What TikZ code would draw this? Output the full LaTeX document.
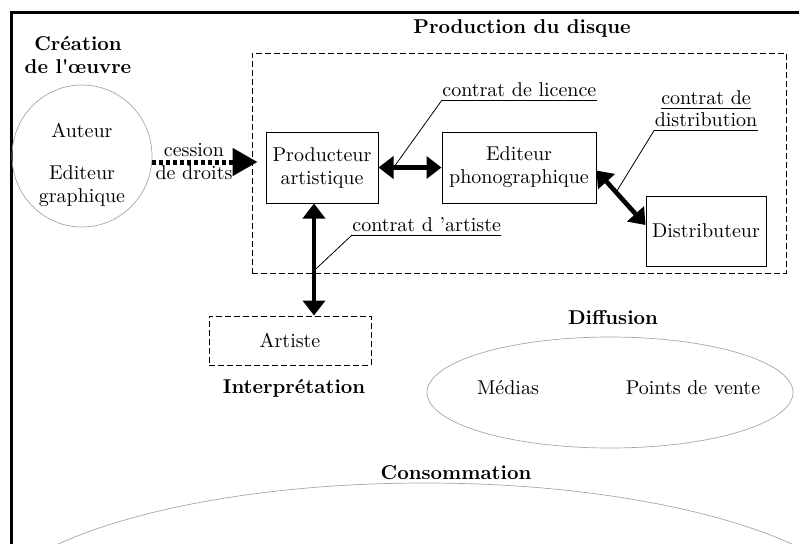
\documentclass[tikz,border=0pt]{standalone}
\usepackage{fontspec}
\usetikzlibrary{arrows.meta,calc,shapes.geometric}
\begin{document}
\begin{tikzpicture}[x=0.5pt,y=-0.5pt,
  lbl/.style={font=\fontsize{10}{11.5}\selectfont, align=center, inner sep=0pt},
  ulbl/.style={lbl, inner xsep=0pt, inner ysep=1.5pt},
  head/.style={font=\bfseries\fontsize{10}{11.5}\selectfont, align=center, inner sep=0pt},
  box/.style={draw, line width=0.5pt, font=\fontsize{10}{11.5}\selectfont, align=center, inner sep=0pt},
  dbox/.style={draw, dash pattern=on 3pt off 1.5pt, line width=0.5pt, inner sep=0pt},
  oval/.style={draw=gray!70, line width=0.35pt, ellipse, inner sep=0pt},
  big/.style={line width=2.3pt, {Triangle[length=7.5pt,width=11pt]}-{Triangle[length=7.5pt,width=11pt]}},
  dotarrow/.style={line width=2.5pt, dash pattern=on 2pt off 1.5pt, -{Triangle[length=12.5pt,width=13.5pt]}},
  lead/.style={line width=0.4pt},
  frame/.style={line width=1.5pt},
]
\useasboundingbox (0,0) rectangle (799,543);
\clip (0,0) rectangle (799,543);

% outer frame (only top and left visible)
\coordinate (fbl) at (11,560);
\coordinate (ftl) at (11,12);
\coordinate (ftr) at (820,12);
\draw[frame] (fbl) -- (ftl) -- (ftr);

% headings
\node[head] (crea) at (78,55) {Création\\de l\textquotesingle œuvre};
\node[head] (prodt) at (522,28) {Production du disque};
\node[head] (interp) at (294,388) {Interprétation};
\node[head] (diffh) at (613,318) {Diffusion};
\node[head] (consh) at (456,473) {Consommation};

% production zone
\node[dbox, minimum width=267pt, minimum height=110pt] (prodzone) at (519,163) {};

% creation circle
\node[oval, minimum width=70pt, minimum height=71pt] (aut) at (82,156) {};
\node[lbl] (auteur) at (82,130) {Auteur};
\node[lbl] (edg) at (82,186) {Editeur\\graphique};

% boxes
\node[box, minimum width=56pt, minimum height=35.5pt] (prod) at (322,167.5) {Producteur\\artistique};
\node[box, minimum width=77pt, minimum height=35.5pt] (edit) at (519,167.5) {Editeur\\phonographique};
\node[box, minimum width=60pt, minimum height=35pt] (dist) at (706,231) {Distributeur};
\node[dbox, font=\fontsize{10}{11.5}\selectfont, minimum width=81pt, minimum height=24.5pt] (art) at (290,340.5) {Artiste};

% diffusion / consommation
\node[oval, minimum width=183pt, minimum height=55.5pt] (diff) at (610,392.5) {};
\node[lbl] (med) at (508,388) {Médias};
\node[lbl] (pdv) at (693,388) {Points de vente};
\node[oval, minimum width=450pt, minimum height=145pt] (cons) at (425,628) {};

% cession de droits
\coordinate (cs1) at ($(aut.east)+(0,6)$);
\coordinate (cs2) at ($(prodzone.west |- aut.east)+(6,6)$);
\draw[dotarrow] (cs1) -- (cs2);
\node[lbl] (cess) at (194,161.5) {cession\\de droits};

% main arrows
\draw[big] (prod.east) -- (edit.west);
\coordinate (va) at ($(prod.south)+(-8,0)$);
\coordinate (vb) at (va |- art.north);
\draw[big] (va) -- (vb);
\coordinate (da) at ([yshift=-1.5pt]edit.east);
\coordinate (db) at ([yshift=3pt]dist.west);
\draw[big] (da) -- (db);

% contract labels
\node[ulbl, anchor=south west] (lic) at (442,100) {contrat de licence};
\draw[lead] (lic.south west) -- (lic.south east);
\draw[lead] (lic.south west) -- ($(prod.east)!0.24!(edit.west)$);

\node[ulbl, anchor=south] (cd1) at (706,108) {contrat de};
\node[ulbl, anchor=south] (cd2) at (706,130) {distribution};
\draw[lead] (cd1.south west) -- (cd1.south east);
\draw[lead] (cd2.south west) -- (cd2.south east);
\draw[lead] (cd2.south west) -- ($(da)!0.4!(db)$);

\node[ulbl, anchor=south west] (ca) at (352,235) {contrat d ’artiste};
\draw[lead] (ca.south west) -- (ca.south east);
\draw[lead] (ca.south west) -- ($(va)!0.6!(vb)$);
\end{tikzpicture}
\end{document}
